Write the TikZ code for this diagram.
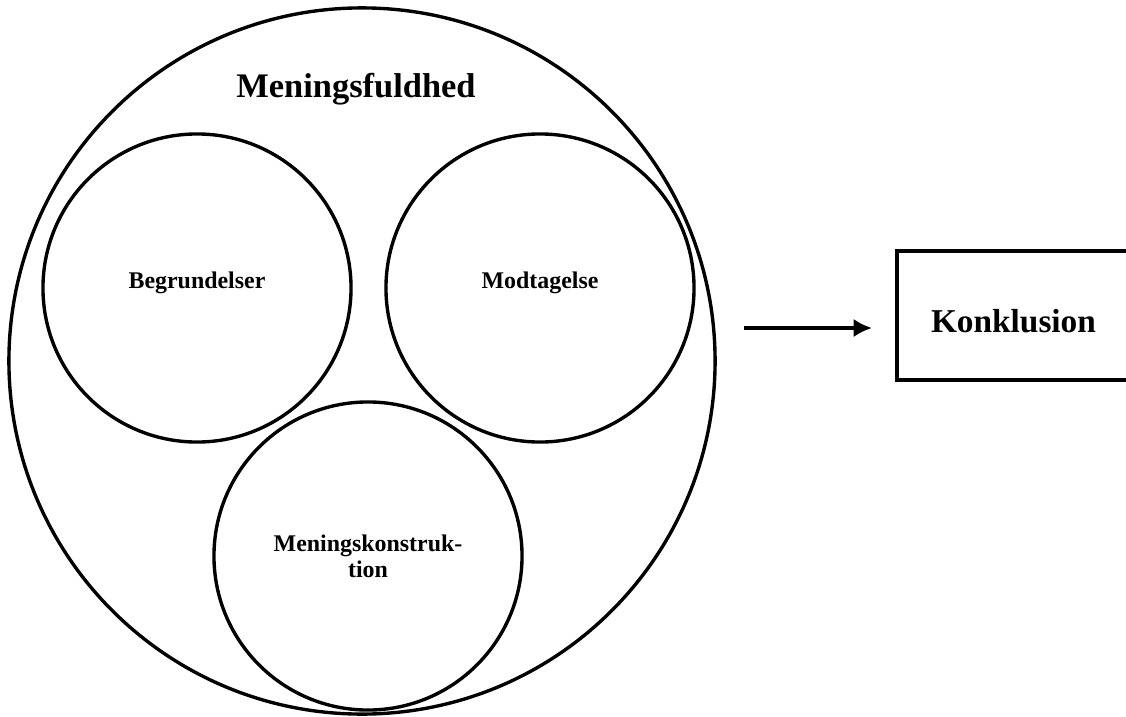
\documentclass[tikz,border=0pt]{standalone}
\usepackage{fontspec}
\setmainfont{Liberation Serif}
\usetikzlibrary{arrows.meta}
\tikzset{ring/.style={draw, circle, line width=2.4pt, inner sep=0pt, minimum size=7.7cm, font=\bfseries\fontsize{17}{18.5}\selectfont, align=center},
	ringtext/.style={text height=8pt, text depth=8pt}}

\begin{document}
\begin{tikzpicture}[x=0.025cm, y=-0.025cm, >={Latex[length=13pt,width=13pt]}]
		\useasboundingbox (0,0) rectangle (1126,717);
		%cerchio grande
		\node [draw, circle, line width=2.4pt, minimum size=17.65cm] (helhed) at (362,361) {};
		\node [anchor=base, font=\bfseries\fontsize{24.5}{28}\selectfont] (titel) at (356,97) {Meningsfuldhed};
		%cerchi interni
		\node [ring, ringtext] (begr) at (197,288) {Begrundelser};
		\node [ring, ringtext] (modt) at (540,288) {Modtagelse};
		\node [ring] (konstr) at (368,556) {Meningskonstruk-\\tion};
		%conclusione
		\node [draw, line width=2.8pt, minimum width=5.825cm, minimum height=3.225cm, text height=24pt, text depth=0pt, font=\bfseries\fontsize{23.7}{28}\selectfont] (konk) at (1013.5,315.5) {Konklusion};
		\coordinate (pil1) at (744,328);
		\coordinate (pil2) at (872,328);
		\draw [->, line width=2.4pt] (pil1) -- (pil2);
	\end{tikzpicture}
\end{document}
